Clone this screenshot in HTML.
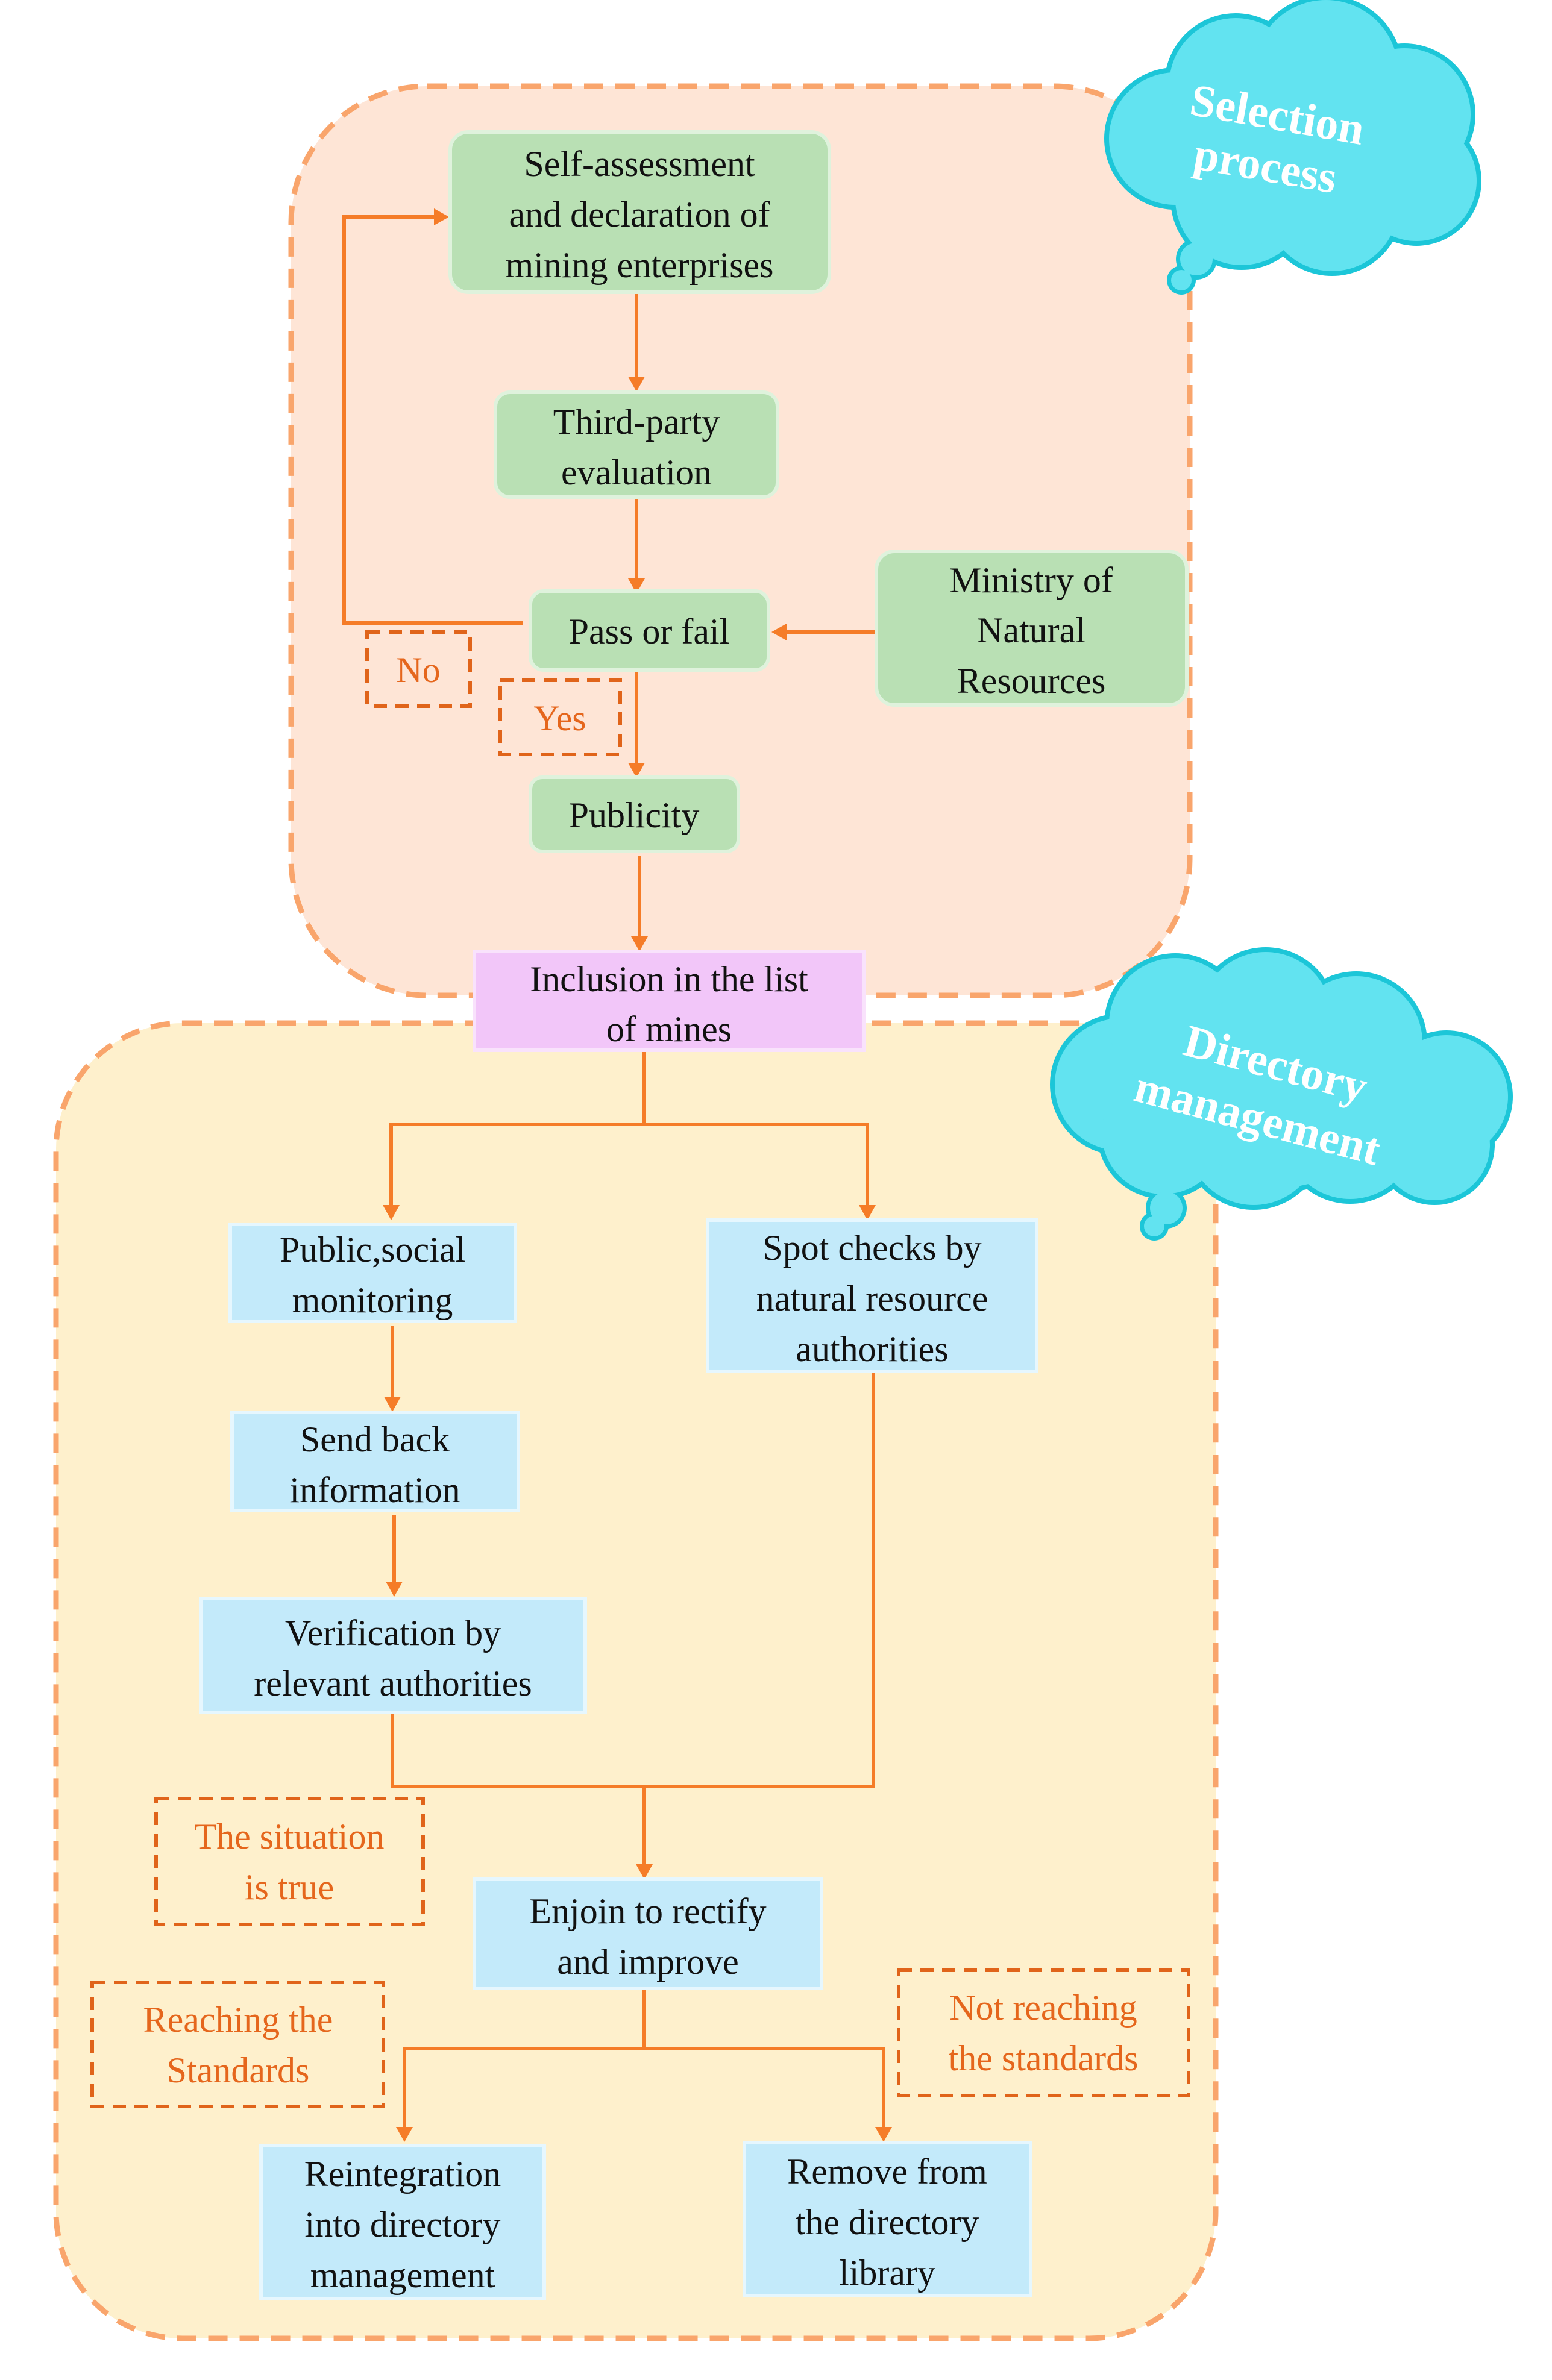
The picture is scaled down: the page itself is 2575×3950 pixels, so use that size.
<!DOCTYPE html>
<html><head><meta charset="utf-8"><style>
html,body{margin:0;padding:0;background:#fff;}
svg{display:block;}
.t{font-family:"Liberation Serif",serif;font-size:60px;fill:#111;text-anchor:middle;}
.o{font-family:"Liberation Serif",serif;font-size:60px;fill:#e5661c;text-anchor:middle;}
.c{font-family:"Liberation Serif",serif;font-size:76px;font-weight:bold;fill:#fff;text-anchor:middle;}
.ln{stroke:#f57c28;stroke-width:6;fill:none;}
.g{fill:#b9e0b4;stroke:#dff2dc;stroke-width:6;}
.b{fill:#c3eafa;stroke:#e6f7fe;stroke-width:6;}
.lb{fill:none;stroke:#e0641a;stroke-width:6;stroke-dasharray:22 14;}
</style></head><body>
<svg width="2575" height="3950" viewBox="0 0 2575 3950" xmlns="http://www.w3.org/2000/svg">
<defs>
<marker id="a" markerWidth="10" markerHeight="10" refX="8" refY="5" orient="auto" markerUnits="userSpaceOnUse" viewBox="0 0 10 10">
</marker>
</defs>
<!-- containers -->
<rect x="483" y="143" width="1491" height="1509" rx="226" fill="#fee5d6" stroke="#f9a56c" stroke-width="9" stroke-dasharray="32 20"/>
<rect x="93" y="1698" width="1924" height="2183" rx="210" fill="#fef0cc" stroke="#f9a56c" stroke-width="9" stroke-dasharray="32 20"/>

<!-- clouds -->
<g transform="translate(0,0)">
<g fill="#1cc6d8">
<circle cx="1950" cy="230" r="118"/><circle cx="2050" cy="140" r="118"/><circle cx="2200" cy="120" r="128"/><circle cx="2330" cy="190" r="118"/><circle cx="2350" cy="300" r="108"/><circle cx="2210" cy="340" r="118"/><circle cx="2060" cy="330" r="118"/><circle cx="2135" cy="240" r="178"/>
<circle cx="1985" cy="430" r="34"/><circle cx="1960" cy="465" r="24"/>
</g>
<g fill="#62e3f0">
<circle cx="1950" cy="230" r="110"/><circle cx="2050" cy="140" r="110"/><circle cx="2200" cy="120" r="120"/><circle cx="2330" cy="190" r="110"/><circle cx="2350" cy="300" r="100"/><circle cx="2210" cy="340" r="110"/><circle cx="2060" cy="330" r="110"/><circle cx="2135" cy="240" r="170"/>
<circle cx="1985" cy="430" r="27"/><circle cx="1960" cy="465" r="17"/>
</g>
<text class="c" transform="translate(2115,215) rotate(10)">Selection</text>
<text class="c" transform="translate(2095,300) rotate(10)">process</text>
</g>
<g>
<g fill="#1cc6d8">
<circle cx="1860" cy="1800" r="118"/><circle cx="1950" cy="1700" r="118"/><circle cx="2100" cy="1690" r="118"/><circle cx="2250" cy="1730" r="118"/><circle cx="2400" cy="1820" r="110"/><circle cx="2380" cy="1900" r="100"/><circle cx="2240" cy="1880" r="118"/><circle cx="2080" cy="1890" r="118"/><circle cx="1930" cy="1880" r="110"/><circle cx="2130" cy="1800" r="178"/>
<circle cx="1935" cy="2005" r="34"/><circle cx="1915" cy="2035" r="24"/>
</g>
<g fill="#62e3f0">
<circle cx="1860" cy="1800" r="110"/><circle cx="1950" cy="1700" r="110"/><circle cx="2100" cy="1690" r="110"/><circle cx="2250" cy="1730" r="110"/><circle cx="2400" cy="1820" r="102"/><circle cx="2380" cy="1900" r="92"/><circle cx="2240" cy="1880" r="110"/><circle cx="2080" cy="1890" r="110"/><circle cx="1930" cy="1880" r="102"/><circle cx="2130" cy="1800" r="170"/>
<circle cx="1935" cy="2005" r="27"/><circle cx="1915" cy="2035" r="17"/>
</g>
<text class="c" transform="translate(2110,1790) rotate(15)">Directory</text>
<text class="c" transform="translate(2080,1880) rotate(15)">management</text>
</g>

<!-- connectors -->
<g class="ln">
<line x1="1056" y1="485" x2="1056" y2="625"/>
<line x1="1056" y1="825" x2="1056" y2="960"/>
<line x1="1056" y1="1112" x2="1056" y2="1266"/>
<line x1="1454" y1="1049" x2="1305" y2="1049"/>
<polyline points="868,1034 571,1034 571,360 720,360"/>
<line x1="1061" y1="1421" x2="1061" y2="1554"/>
<polyline points="1069,1743 1069,1866"/>
<polyline points="649,2000 649,1866 1439,1866 1439,2000"/>
<line x1="651" y1="2200" x2="651" y2="2318"/>
<line x1="654" y1="2515" x2="654" y2="2625"/>
<polyline points="651,2842 651,2965 1449,2965 1449,2276"/>
<line x1="1069" y1="2965" x2="1069" y2="3094"/>
<line x1="1069" y1="3300" x2="1069" y2="3400"/>
<polyline points="671,3530 671,3400 1466,3400 1466,3530"/>
</g>
<g fill="#f57c28">
<polygon points="1042,625 1070,625 1056,650"/>
<polygon points="1042,960 1070,960 1056,985"/>
<polygon points="1042,1266 1070,1266 1056,1291"/>
<polygon points="1305,1035 1305,1063 1280,1049"/>
<polygon points="720,346 720,374 745,360"/>
<polygon points="1047,1554 1075,1554 1061,1579"/>
<polygon points="635,2000 663,2000 649,2025"/>
<polygon points="1425,2000 1453,2000 1439,2025"/>
<polygon points="637,2318 665,2318 651,2343"/>
<polygon points="640,2625 668,2625 654,2650"/>
<polygon points="1055,3094 1083,3094 1069,3119"/>
<polygon points="657,3530 685,3530 671,3555"/>
<polygon points="1452,3530 1480,3530 1466,3555"/>
</g>

<!-- green nodes -->
<rect class="g" x="747" y="219" width="629" height="266" rx="30"/>
<text class="t" x="1061" y="292">Self-assessment</text>
<text class="t" x="1061" y="376">and declaration of</text>
<text class="t" x="1061" y="460">mining enterprises</text>
<rect class="g" x="822" y="651" width="468" height="174" rx="24"/>
<text class="t" x="1056" y="720">Third-party</text>
<text class="t" x="1056" y="804">evaluation</text>
<rect class="g" x="880" y="981" width="395" height="131" rx="22"/>
<text class="t" x="1077" y="1068">Pass or fail</text>
<rect class="g" x="1454" y="915" width="515" height="255" rx="30"/>
<text class="t" x="1711" y="983">Ministry of</text>
<text class="t" x="1711" y="1066">Natural</text>
<text class="t" x="1711" y="1150">Resources</text>
<rect class="g" x="880" y="1290" width="345" height="123" rx="20"/>
<text class="t" x="1052" y="1373">Publicity</text>

<!-- pink -->
<rect x="787" y="1579" width="647" height="164" fill="#f2c6f9" stroke="#f9e2fc" stroke-width="6"/>
<text class="t" x="1110" y="1645">Inclusion in the list</text>
<text class="t" x="1110" y="1728">of mines</text>

<!-- blue nodes -->
<rect class="b" x="382" y="2032" width="473" height="161"/>
<text class="t" x="618" y="2094">Public,social</text>
<text class="t" x="618" y="2178">monitoring</text>
<rect class="b" x="1174" y="2025" width="546" height="251"/>
<text class="t" x="1447" y="2091">Spot checks by</text>
<text class="t" x="1447" y="2175">natural resource</text>
<text class="t" x="1447" y="2259">authorities</text>
<rect class="b" x="385" y="2344" width="475" height="163"/>
<text class="t" x="622" y="2409">Send back</text>
<text class="t" x="622" y="2493">information</text>
<rect class="b" x="334" y="2653" width="637" height="189"/>
<text class="t" x="652" y="2730">Verification by</text>
<text class="t" x="652" y="2814">relevant authorities</text>
<rect class="b" x="787" y="3119" width="576" height="181"/>
<text class="t" x="1075" y="3192">Enjoin to rectify</text>
<text class="t" x="1075" y="3276">and improve</text>
<rect class="b" x="433" y="3561" width="470" height="254"/>
<text class="t" x="668" y="3628">Reintegration</text>
<text class="t" x="668" y="3712">into directory</text>
<text class="t" x="668" y="3796">management</text>
<rect class="b" x="1235" y="3556" width="475" height="254"/>
<text class="t" x="1472" y="3624">Remove from</text>
<text class="t" x="1472" y="3708">the directory</text>
<text class="t" x="1472" y="3792">library</text>

<!-- dashed labels -->
<rect class="lb" x="609" y="1049" width="171" height="123"/>
<text class="o" x="694" y="1132">No</text>
<rect class="lb" x="830" y="1129" width="199" height="123"/>
<text class="o" x="929" y="1212">Yes</text>
<rect class="lb" x="259" y="2985" width="443" height="209"/>
<text class="o" x="480" y="3068">The situation</text>
<text class="o" x="480" y="3152">is true</text>
<rect class="lb" x="153" y="3290" width="483" height="206"/>
<text class="o" x="395" y="3372">Reaching the</text>
<text class="o" x="395" y="3456">Standards</text>
<rect class="lb" x="1491" y="3270" width="481" height="208"/>
<text class="o" x="1731" y="3352">Not reaching</text>
<text class="o" x="1731" y="3436">the standards</text>
</svg>
</body></html>
